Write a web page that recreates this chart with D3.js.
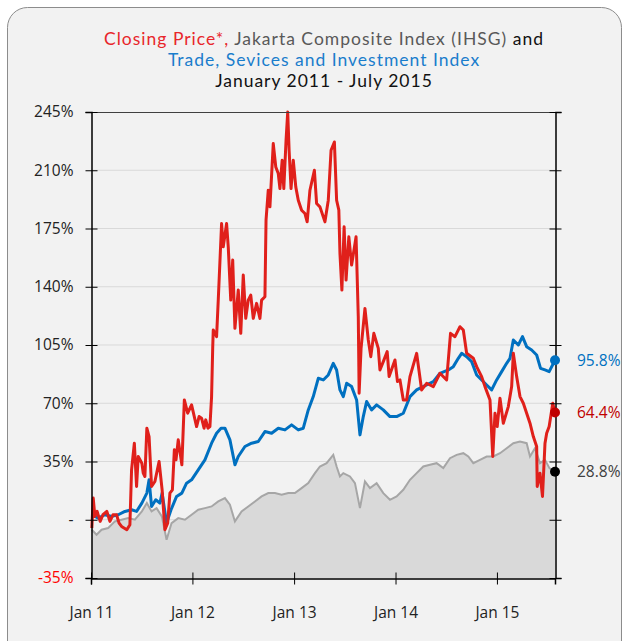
<!DOCTYPE html>
<html>
<head>
<meta charset="utf-8">
<script src="https://cdn.jsdelivr.net/npm/d3@7"></script>
<style>
  body { margin: 0; background: #fff; }
  svg { display: block; font-family: "Open Sans", "Noto Sans", sans-serif; }
</style>
</head>
<body>
<svg id="chart"></svg>
<script>
// time is in years since 1 Jan 2011, values are % change from the start
var closingTime = [0.007,0.023,0.039,0.059,0.089,0.118,0.155,0.187,0.217,0.253,0.276,0.302,0.352,0.384,0.401,0.427,0.450,0.466,0.500,0.515,0.532,0.549,0.571,0.598,0.631,0.670,0.702,0.729,0.756,0.778,0.801,0.821,0.837,0.860,0.894,0.919,0.953,0.992,1.041,1.064,1.091,1.113,1.130,1.153,1.172,1.189,1.199,1.205,1.238,1.254,1.288,1.303,1.337,1.353,1.376,1.396,1.419,1.451,1.475,1.500,1.524,1.550,1.573,1.599,1.632,1.665,1.682,1.714,1.724,1.747,1.764,1.796,1.820,1.845,1.862,1.885,1.901,1.921,1.938,1.951,1.970,1.993,2.017,2.042,2.076,2.108,2.131,2.158,2.200,2.224,2.256,2.305,2.338,2.365,2.397,2.421,2.443,2.453,2.473,2.493,2.512,2.542,2.568,2.611,2.633,2.643,2.660,2.700,2.732,2.756,2.788,2.831,2.847,2.880,2.919,2.939,2.995,3.020,3.044,3.077,3.110,3.143,3.209,3.258,3.307,3.372,3.438,3.504,3.544,3.586,3.635,3.668,3.701,3.767,3.800,3.849,3.882,3.931,3.958,3.980,4.003,4.030,4.062,4.111,4.145,4.161,4.194,4.227,4.259,4.293,4.325,4.358,4.391,4.397,4.424,4.450,4.473,4.490,4.515,4.549,4.571];
var closingValue = [-5,13,2,5,-1,3,5,-1,3,3,-2,-4,-6,-3,30,46,20,38,34,28,26,55,50,20,23,35,18,-6,-2,16,18,42,36,48,33,72,64,69,56,62,61,55,60,55,56,74,103,114,110,132,178,164,178,164,132,156,115,138,112,147,121,132,135,121,130,121,132,134,180,198,188,226,212,208,199,216,199,228,245,222,199,216,200,192,186,184,179,198,210,190,188,179,192,222,227,192,186,160,138,176,144,170,153,170,122,76,103,127,108,98,112,103,90,95,101,86,96,83,84,72,72,86,100,78,82,80,88,84,112,110,116,114,100,97,92,86,80,72,38,64,56,73,58,68,80,100,86,74,70,64,58,50,44,20,28,14,46,52,56,70,64.4];

var tradeTime = [0.007,0.072,0.138,0.204,0.269,0.335,0.401,0.450,0.500,0.549,0.571,0.598,0.637,0.680,0.702,0.746,0.788,0.844,0.894,0.943,0.992,1.057,1.123,1.189,1.238,1.281,1.320,1.369,1.419,1.451,1.517,1.583,1.648,1.714,1.780,1.845,1.911,1.977,2.042,2.092,2.141,2.190,2.239,2.289,2.338,2.387,2.421,2.453,2.486,2.519,2.568,2.618,2.650,2.683,2.716,2.766,2.815,2.880,2.946,3.012,3.077,3.143,3.209,3.307,3.372,3.438,3.520,3.570,3.619,3.652,3.701,3.751,3.800,3.849,3.899,3.948,3.997,4.046,4.096,4.128,4.161,4.210,4.253,4.293,4.342,4.391,4.431,4.473,4.515,4.571];
var tradeValue = [3,1,3,2,3,5,6,5,10,16,24,8,12,10,16,-2,6,14,16,22,24,30,36,46,52,55,55,48,33,38,44,46,47,53,52,55,54,57,54,55,66,74,85,84,87,94,90,78,74,82,80,72,51,62,71,66,69,66,62,62,64,74,78,81,83,88,90,92,97,100,98,95,87,84,81,78,84,89,94,97,108,105,110,104,102,99,91,90,89,95.8];

var ihsgTime = [0.007,0.056,0.105,0.170,0.236,0.302,0.367,0.433,0.500,0.549,0.598,0.647,0.697,0.746,0.795,0.860,0.926,0.992,1.057,1.123,1.189,1.254,1.320,1.369,1.419,1.485,1.550,1.616,1.682,1.747,1.813,1.879,1.944,2.010,2.076,2.141,2.207,2.256,2.322,2.387,2.421,2.453,2.486,2.552,2.601,2.650,2.700,2.749,2.815,2.880,2.946,3.012,3.077,3.143,3.209,3.274,3.340,3.406,3.471,3.537,3.603,3.668,3.717,3.767,3.833,3.899,3.964,4.030,4.096,4.161,4.227,4.293,4.325,4.374,4.424,4.473,4.517,4.571];
var ihsgValue = [-6,-9,-6,-5,-1,0,1,0,5,10,5,7,2,-12,-2,1,0,3,6,7,8,11,13,9,-1,5,8,11,14,16,16,15,16,16,19,22,28,32,34,39,32,26,28,26,22,7,23,19,22,16,12,14,18,24,28,32,33,34,31,37,39,40,38,34,36,38,38,40,43,46,47,46,38,43,34,36,31,28.8];

var yTicks = [-35, 0, 35, 70, 105, 140, 175, 210, 245];
var xTickLabels = ["Jan 11", "Jan 12", "Jan 13", "Jan 14", "Jan 15"];
var endLabels = ["95.8%", "64.4%", "28.8%"];

var width = 629, height = 641;
var margin = { left: 91, right: 74, top: 112, bottom: 63 };

var red = "#e0201b", blue = "#0070c0", grey = "#a6a6a6";

function toDate(t) {
  return new Date(2011, 0, 1 + Math.round(t * 365.25));
}
function zip(times, values) {
  return times.map(function (t, i) { return { date: toDate(t), value: values[i] }; });
}

var closing = zip(closingTime, closingValue);
var trade = zip(tradeTime, tradeValue);
var ihsg = zip(ihsgTime, ihsgValue);

var svg = d3.select("#chart")
  .attr("width", width)
  .attr("height", height);

// frame
svg.append("rect")
  .attr("x", 7.5).attr("y", 7.5)
  .attr("width", 614).attr("height", 660)
  .attr("rx", 20)
  .attr("fill", "#f2f2f2")
  .attr("stroke", "#8c8c8c")
  .attr("stroke-width", 1);

var x = d3.scaleTime()
  .domain([new Date(2011, 0, 1), toDate(closingTime[closingTime.length - 1])])
  .range([margin.left, width - margin.right]);

var y = d3.scaleLinear()
  .domain([-35, 245])
  .range([height - margin.bottom, margin.top]);

// gridlines
svg.append("g")
  .selectAll("line")
  .data(yTicks.slice(1, -1))
  .enter().append("line")
  .attr("x1", x.range()[0]).attr("x2", x.range()[1])
  .attr("y1", function (d) { return y(d); })
  .attr("y2", function (d) { return y(d); })
  .attr("stroke", "#d9d9d9");

// ihsg area + line
svg.append("path")
  .datum(ihsg)
  .attr("fill", "#d9d9d9")
  .attr("d", d3.area()
    .x(function (d) { return x(d.date); })
    .y0(y(-35))
    .y1(function (d) { return y(d.value); }));

var line = d3.line()
  .x(function (d) { return x(d.date); })
  .y(function (d) { return y(d.value); });

svg.append("path")
  .datum(ihsg)
  .attr("fill", "none")
  .attr("stroke", grey)
  .attr("stroke-width", 2)
  .attr("d", line);

svg.append("path")
  .datum(trade)
  .attr("fill", "none")
  .attr("stroke", blue)
  .attr("stroke-width", 3)
  .attr("stroke-linejoin", "round")
  .attr("d", line);

svg.append("path")
  .datum(closing)
  .attr("fill", "none")
  .attr("stroke", red)
  .attr("stroke-width", 3)
  .attr("stroke-linejoin", "round")
  .attr("d", line);

// top border
svg.append("line")
  .attr("x1", x.range()[0]).attr("x2", x.range()[1])
  .attr("y1", y(245) + 0.5).attr("y2", y(245) + 0.5)
  .attr("stroke", "#404040");

// axes
var yLeft = d3.axisLeft(y)
  .tickValues(yTicks)
  .tickSize(6)
  .tickPadding(12)
  .tickFormat(function (d) { return d === 0 ? "-" : d + "%"; });

var gl = svg.append("g")
  .attr("transform", "translate(" + (margin.left + 0.5) + ",0)")
  .call(yLeft);
gl.selectAll(".tick line").attr("x2", 6).attr("x1", -6);
gl.selectAll("text")
  .attr("font-size", 15.5)
  .attr("fill", function (d) { return d < 0 ? "#ff0000" : "#222"; })
  .attr("font-family", "'Open Sans', sans-serif");

var gr = svg.append("g")
  .attr("transform", "translate(" + (width - margin.right + 0.5) + ",0)")
  .call(d3.axisRight(y).tickValues(yTicks).tickSize(6).tickFormat(""));
gr.selectAll(".tick line").attr("x1", -6).attr("x2", 6);

var gx = svg.append("g")
  .attr("transform", "translate(0," + (height - margin.bottom + 0.5) + ")")
  .call(d3.axisBottom(x)
    .ticks(d3.timeYear.every(1))
    .tickSize(6)
    .tickPadding(22)
    .tickFormat(function (d, i) { return xTickLabels[i]; }));
gx.selectAll(".tick line").attr("y1", -6).attr("y2", 6);
gx.selectAll("text")
  .attr("font-size", 15.5)
  .attr("fill", "#222")
  .attr("font-family", "'Open Sans', sans-serif");

svg.selectAll(".domain").attr("stroke", "#000").attr("stroke-width", 1.5);

// end markers
var ends = [
  { d: trade[trade.length - 1], c: blue, tc: blue },
  { d: closing[closing.length - 1], c: "#c00000", tc: "#c00000" },
  { d: ihsg[ihsg.length - 1], c: "#000", tc: "#404040" }
];
svg.selectAll(".endDot")
  .data(ends)
  .enter().append("circle")
  .attr("cx", function (e) { return x(e.d.date); })
  .attr("cy", function (e) { return y(e.d.value); })
  .attr("r", 5)
  .attr("fill", function (e) { return e.c; });

svg.selectAll(".endLabel")
  .data(ends)
  .enter().append("text")
  .attr("x", function (e) { return x(e.d.date) + 22; })
  .attr("y", function (e) { return y(e.d.value); })
  .attr("dy", "0.35em")
  .attr("font-size", 15.5)
  .attr("fill", function (e) { return e.tc; })
  .text(function (e, i) { return endLabels[i]; });

// title
var title = svg.append("g")
  .attr("text-anchor", "middle")
  .attr("font-size", 17.5)
  .attr("letter-spacing", 1)
  .attr("font-family", "Lato, sans-serif");
var t1 = title.append("text").attr("x", 324).attr("y", 45);
t1.append("tspan").attr("fill", "#e8262b").text("Closing Price*,");
t1.append("tspan").attr("fill", "#595959").text(" Jakarta Composite Index (IHSG)");
t1.append("tspan").attr("fill", "#111").text(" and");
title.append("text").attr("x", 324).attr("y", 66).attr("fill", "#1a7dcc")
  .text("Trade, Sevices and Investment Index");
title.append("text").attr("x", 324).attr("y", 87).attr("fill", "#111")
  .text("January 2011 - July 2015");
</script>
</body>
</html>
